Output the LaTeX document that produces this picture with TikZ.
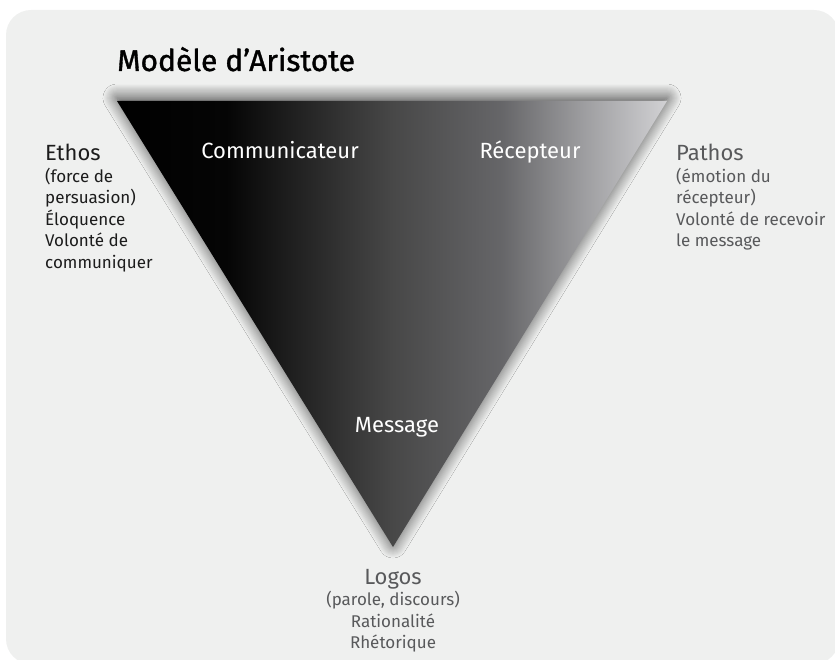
\documentclass[tikz,border=0pt]{standalone}
\usepackage{fontspec}
\setmainfont{Fira Sans}
\newfontfamily\titlefont{Fira Sans}[FakeBold=1.2]
\usetikzlibrary{shadows.blur}
\definecolor{bg}{RGB}{239,240,239}
\definecolor{darktxt}{RGB}{28,28,28}
\definecolor{graytxt}{RGB}{88,89,91}
\pgfdeclarehorizontalshading{trishade}{100bp}{rgb(0bp)=(0,0,0); rgb(25bp)=(0,0,0); rgb(35bp)=(0.02,0.02,0.02); rgb(50bp)=(0.28,0.28,0.28); rgb(60bp)=(0.40,0.40,0.41); rgb(67.5bp)=(0.62,0.62,0.63); rgb(75bp)=(0.82,0.82,0.83); rgb(100bp)=(0.82,0.82,0.83)}
\tikzset{
  side/.style={inner sep=0pt, align=left, anchor=north west, font=\fontsize{17}{21.5}\selectfont},
  inlabel/.style={inner sep=0pt, anchor=base, text=white, font=\fontsize{22}{26}\selectfont},
}
\begin{document}
\begin{tikzpicture}[x=1pt,y=-1pt]
\useasboundingbox (0,0) rectangle (835,660);
\fill[bg, rounded corners=25pt] (6,10) rectangle (839,664);
\coordinate (A) at (117,101);
\coordinate (B) at (667,101);
\coordinate (C) at (393,547);
\path[blur shadow={shadow xshift=0pt, shadow yshift=3pt, shadow blur radius=14pt, shadow blur steps=14, shadow opacity=75}, shading=trishade] (A) -- (B) -- (C) -- cycle;
\node[anchor=base west, inner sep=0pt, text=black, font=\titlefont\fontsize{30}{34}\selectfont] (title) at (117,71) {Modèle d’Aristote};
\node[side, text=darktxt] (ethos) at (45,144) {{\fontsize{22}{22}\selectfont Ethos}\\(force de\\persuasion)\\Éloquence\\Volonté de\\communiquer};
\node[side, text=graytxt] (pathos) at (676,144) {{\fontsize{22}{22}\selectfont Pathos}\\(émotion du\\récepteur)\\Volonté de recevoir\\le message};
\node[side, align=center, anchor=north, text=graytxt] (logos) at (393,569) {{\fontsize{22}{22}\selectfont Logos}\\(parole, discours)\\Rationalité\\Rhétorique};
\node[inlabel] (comm) at (280,159) {Communicateur};
\node[inlabel] (recep) at (530,159) {Récepteur};
\node[inlabel] (msg) at (397,432) {Message};
\end{tikzpicture}
\end{document}
